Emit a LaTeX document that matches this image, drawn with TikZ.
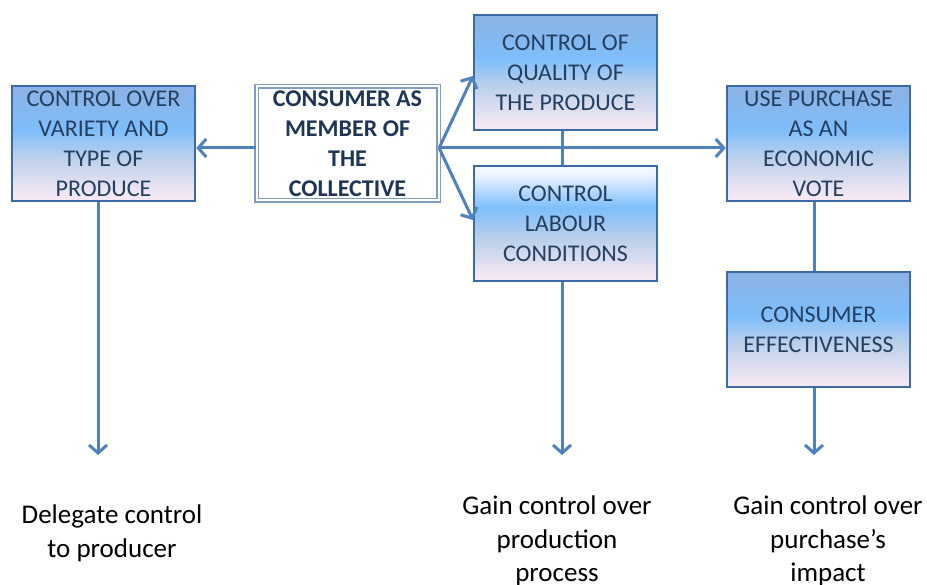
\documentclass[tikz,border=0pt]{standalone}
\usepackage{fontspec}
\setmainfont{Carlito}
\usetikzlibrary{arrows.meta}
\definecolor{lineblue}{HTML}{4F81BD}
\definecolor{borderblue}{HTML}{3C6AA5}
\definecolor{boxtext}{HTML}{243F60}
\definecolor{navytext}{HTML}{1F3556}
\definecolor{sTop}{HTML}{8AB3E6}
\definecolor{sBright}{HTML}{7EBEFB}
\definecolor{sMid}{HTML}{BCD0EA}
\definecolor{sBottom}{HTML}{F5E8F4}
\definecolor{sWhite}{HTML}{F2F6FF}
\pgfdeclareverticalshading{boxshade}{100bp}{color(0bp)=(sBottom); color(27bp)=(sBottom); color(44bp)=(sMid); color(56bp)=(sBright); color(72bp)=(sTop); color(100bp)=(sTop)}
\pgfdeclareverticalshading{boxshadeb}{100bp}{color(0bp)=(sBottom); color(27bp)=(sBottom); color(43bp)=(sMid); color(57bp)=(sBright); color(72bp)=(sWhite); color(100bp)=(sWhite)}
\tikzset{
  box/.style={rectangle, draw=borderblue, line width=2.5pt, shading=boxshade,
    minimum width=183pt, minimum height=115pt, inner sep=0pt, align=center,
    text=boxtext, font=\fontsize{24}{30}\selectfont},
  centerbox/.style={rectangle, draw=borderblue!65!white, line width=1.2pt, double=white,
    double distance=2pt, fill=white, minimum width=182pt, minimum height=114pt,
    inner sep=0pt, align=center, text=navytext, font=\fontsize{24}{30}\selectfont\bfseries},
  conn/.style={draw=lineblue, line width=3pt},
  arr/.style={conn, -{Straight Barb[length=8pt,width=18pt,line width=3pt]}},
  result/.style={align=center, text=black, font=\fontsize{27}{33.5}\selectfont}
}
\begin{document}
\begin{tikzpicture}[x=1pt,y=-1pt]
\useasboundingbox (0,0) rectangle (927,585);
\node[box] (variety) at (103.5,143.5) {CONTROL OVER\\VARIETY AND\\TYPE OF\\PRODUCE};
\node[centerbox] (consumer) at (347.5,143.5) {CONSUMER AS\\MEMBER OF\\THE\\COLLECTIVE};
\node[box] (quality) at (565.5,72.5) {CONTROL OF\\QUALITY OF\\THE PRODUCE};
\node[box, shading=boxshadeb] (labour) at (565.5,223.5) {CONTROL\\LABOUR\\CONDITIONS};
\node[box] (vote) at (818.5,143.5) {USE PURCHASE\\AS AN\\ECONOMIC\\VOTE};
\node[box] (effect) at (818.5,329.5) {CONSUMER\\EFFECTIVENESS};

\coordinate (c1) at (98,455);
\coordinate (c2) at (562,455);
\coordinate (c3) at (814,455);
\coordinate (qin) at (473,76);
\coordinate (lin) at (473,220);

\draw[arr] (consumer.west |- 0,148) -- (variety.east |- 0,148);
\draw[arr] (consumer.east |- 0,148) -- (qin);
\draw[arr] (consumer.east |- 0,148) -- (lin);
\draw[arr] (consumer.east |- 0,148) -- (vote.west |- 0,148);
\draw[conn] (quality.south -| 562,0) -- (labour.north -| 562,0);
\draw[conn] (vote.south -| 814,0) -- (effect.north -| 814,0);
\draw[arr] (variety.south -| 98,0) -- (c1);
\draw[arr] (labour.south -| 562,0) -- (c2);
\draw[arr] (effect.south -| 814,0) -- (c3);

\node[result] (delegate) at (112,533.5) {Delegate control\\to producer};
\node[result] (process) at (557,541) {Gain control over\\production\\process};
\node[result] (impact) at (828,541) {Gain control over\\purchase’s\\impact};
\end{tikzpicture}
\end{document}
